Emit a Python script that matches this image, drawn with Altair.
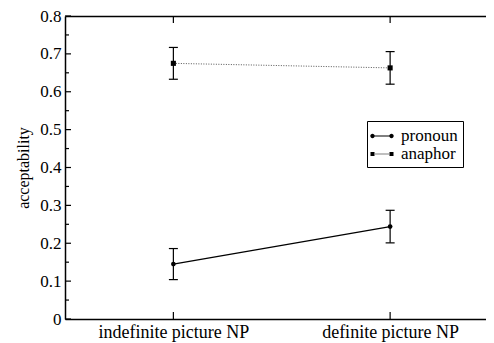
import altair as alt
import pandas as pd

conditions = ["indefinite picture NP", "definite picture NP"]
cond_pos = [1, 2]
series = ["pronoun", "anaphor"]
pronoun_mean = [0.145, 0.244]
pronoun_err = [0.041, 0.043]
anaphor_mean = [0.675, 0.663]
anaphor_err = [0.042, 0.043]
y_major_ticks = [0, 0.1, 0.2, 0.3, 0.4, 0.5, 0.6, 0.7, 0.8]
y_minor_ticks = [0.05, 0.15, 0.25, 0.35, 0.45, 0.55, 0.65, 0.75]

rows = []
for name, means, errs in [("pronoun", pronoun_mean, pronoun_err), ("anaphor", anaphor_mean, anaphor_err)]:
    for c, p, m, e in zip(conditions, cond_pos, means, errs):
        rows.append({"cond": c, "x": p, "series": name, "value": m, "lo": m - e, "hi": m + e})
df = pd.DataFrame(rows)
major_df = pd.DataFrame({"t": y_major_ticks})
minor_df = pd.DataFrame({"t": y_minor_ticks})
cond_df = pd.DataFrame({"x": cond_pos})

FONT = "Liberation Serif"
PLOT_W = 421      # visible part of the plot area (page is 494 wide)
RANGE_W = 433.5   # full x range: right frame lies just past the window edge
PLOT_H = 303

label_expr = " : ".join(
    [f"datum.value == {p} ? '{c}'" for p, c in zip(cond_pos, conditions)]
) + " : ''"
y_label_expr = "datum.value == 0 ? '0' : format(datum.value, '.1f')"

xscale = alt.Scale(domain=[0.5, 2.5], range=[0, RANGE_W], nice=False, zero=False)
yscale = alt.Scale(domain=[0, 0.8], nice=False, zero=False)

x_axis = alt.Axis(
    orient="bottom", values=cond_pos, labelExpr=label_expr, ticks=False, tickSize=0,
    domain=False, grid=False, title=None, labelPadding=4, labelFontSize=18,
    labelFont=FONT, labelColor="black", labelFlush=False, labelOverlap=False)
y_axis = alt.Axis(
    orient="left", values=y_major_ticks, labelExpr=y_label_expr, ticks=False, tickSize=0,
    domain=False, grid=False, title="acceptability", titleFont=FONT,
    titleFontSize=16, titleFontWeight="normal", titleColor="black", titlePadding=8,
    labelPadding=4, labelFontSize=17, labelFont=FONT, labelColor="black",
    labelBound=False, labelFlush=False, labelOverlap=False)

x_enc = alt.X("x:Q", scale=xscale, axis=x_axis)
y_enc = alt.Y("value:Q", scale=yscale, axis=y_axis)

base = alt.Chart(df)

err_rule = base.mark_rule(color="black", strokeWidth=1.2).encode(
    x=x_enc, y=alt.Y("lo:Q", scale=yscale, axis=y_axis), y2="hi:Q")
cap_lo = base.mark_tick(color="black", orient="horizontal", size=9, thickness=1.2,
                        opacity=1).encode(x=x_enc, y=alt.Y("lo:Q", scale=yscale, axis=y_axis))
cap_hi = base.mark_tick(color="black", orient="horizontal", size=9, thickness=1.2,
                        opacity=1).encode(x=x_enc, y=alt.Y("hi:Q", scale=yscale, axis=y_axis))
line_p = base.transform_filter("datum.series == 'pronoun'").mark_line(
    color="black", strokeWidth=1.2).encode(x=x_enc, y=y_enc)
line_a = base.transform_filter("datum.series == 'anaphor'").mark_line(
    color="#555555", strokeWidth=1, strokeDash=[1, 1.5]).encode(x=x_enc, y=y_enc)
pts_p = base.transform_filter("datum.series == 'pronoun'").mark_circle(
    color="black", size=22, opacity=1).encode(x=x_enc, y=y_enc)
pts_a = base.transform_filter("datum.series == 'anaphor'").mark_square(
    color="black", size=26, opacity=1).encode(x=x_enc, y=y_enc)

# inward-pointing frame ticks
left_major = alt.Chart(major_df).mark_tick(
    color="black", orient="horizontal", size=6, thickness=1.2, opacity=1).encode(
    x=alt.value(3), y=alt.Y("t:Q", scale=yscale, axis=y_axis))
left_minor = alt.Chart(minor_df).mark_tick(
    color="black", orient="horizontal", size=4, thickness=1.2, opacity=1).encode(
    x=alt.value(2), y=alt.Y("t:Q", scale=yscale, axis=y_axis))
bottom_ticks = alt.Chart(cond_df).mark_tick(
    color="black", orient="vertical", size=7, thickness=1.2, opacity=1).encode(
    x=x_enc, y=alt.value(PLOT_H - 3.5))
top_ticks = alt.Chart(cond_df).mark_tick(
    color="black", orient="vertical", size=7, thickness=1.2, opacity=1).encode(
    x=x_enc, y=alt.value(3.5))

# legend symbols: line with a marker at each end (all filled shapes)
path_p = ("M-0.95,-0.22 A0.22,0.22 0 1,1 -0.95,0.22 A0.22,0.22 0 1,1 -0.95,-0.22 Z "
          "M0.95,-0.22 A0.22,0.22 0 1,1 0.95,0.22 A0.22,0.22 0 1,1 0.95,-0.22 Z "
          "M-0.95,-0.06 L0.95,-0.06 L0.95,0.06 L-0.95,0.06 Z")
path_a = ("M-1.15,-0.2 L-0.75,-0.2 L-0.75,0.2 L-1.15,0.2 Z "
          "M0.75,-0.2 L1.15,-0.2 L1.15,0.2 L0.75,0.2 Z "
          "M-0.65,-0.05 L-0.55,-0.05 L-0.55,0.05 L-0.65,0.05 Z "
          "M-0.45,-0.05 L-0.35,-0.05 L-0.35,0.05 L-0.45,0.05 Z "
          "M-0.25,-0.05 L-0.15,-0.05 L-0.15,0.05 L-0.25,0.05 Z "
          "M-0.05,-0.05 L0.05,-0.05 L0.05,0.05 L-0.05,0.05 Z "
          "M0.15,-0.05 L0.25,-0.05 L0.25,0.05 L0.15,0.05 Z "
          "M0.35,-0.05 L0.45,-0.05 L0.45,0.05 L0.35,0.05 Z "
          "M0.55,-0.05 L0.65,-0.05 L0.65,0.05 L0.55,0.05 Z")

legend_layer = base.transform_filter("datum.value < 0").mark_point(
    filled=True, color="black", opacity=1).encode(
    x=x_enc, y=y_enc,
    shape=alt.Shape("series:N", scale=alt.Scale(domain=series, range=[path_p, path_a]),
                    legend=alt.Legend(orient="none", legendX=302, legendY=105, title=None,
                                      labelFont=FONT, labelFontSize=17, labelColor="black",
                                      strokeColor="black", fillColor="white", padding=5,
                                      symbolSize=400, labelOffset=9, rowPadding=0,
                                      symbolFillColor="black", symbolStrokeWidth=0,
                                      symbolOpacity=1)))

inner = alt.layer(err_rule, cap_lo, cap_hi, line_p, line_a, pts_p, pts_a,
                  left_major, left_minor, bottom_ticks, top_ticks, legend_layer)

# frame lines: left + top
frame_a = base.mark_point(opacity=0).encode(
    x=alt.X("x:Q", scale=xscale, axis=alt.Axis(
        orient="top", ticks=False, labels=False, domain=True, domainColor="black",
        domainWidth=1.5, grid=False, title=None)),
    y=alt.Y("value:Q", scale=yscale, axis=alt.Axis(
        orient="left", ticks=False, labels=False, domain=True, domainColor="black",
        domainWidth=1.5, grid=False, title=None)))
# frame line: bottom
frame_b = base.mark_point(opacity=0).encode(
    x=alt.X("x:Q", scale=xscale, axis=alt.Axis(
        orient="bottom", ticks=False, labels=False, domain=True, domainColor="black",
        domainWidth=1.5, grid=False, title=None)),
    y=alt.Y("value:Q", scale=yscale, axis=None))

chart = alt.layer(inner, frame_a, frame_b).resolve_scale(
    x="independent", y="independent"
).properties(
    width=PLOT_W, height=PLOT_H,
    autosize=alt.AutoSizeParams(type="none"),
    padding={"left": 57, "top": 8, "right": 0, "bottom": 30},
).configure(font=FONT).configure_view(stroke=None).configure_axis(
    labelFont=FONT, titleFont=FONT).configure_legend(labelFont=FONT)

chart.save("out.html", embed_options={"renderer": "svg", "actions": False})
